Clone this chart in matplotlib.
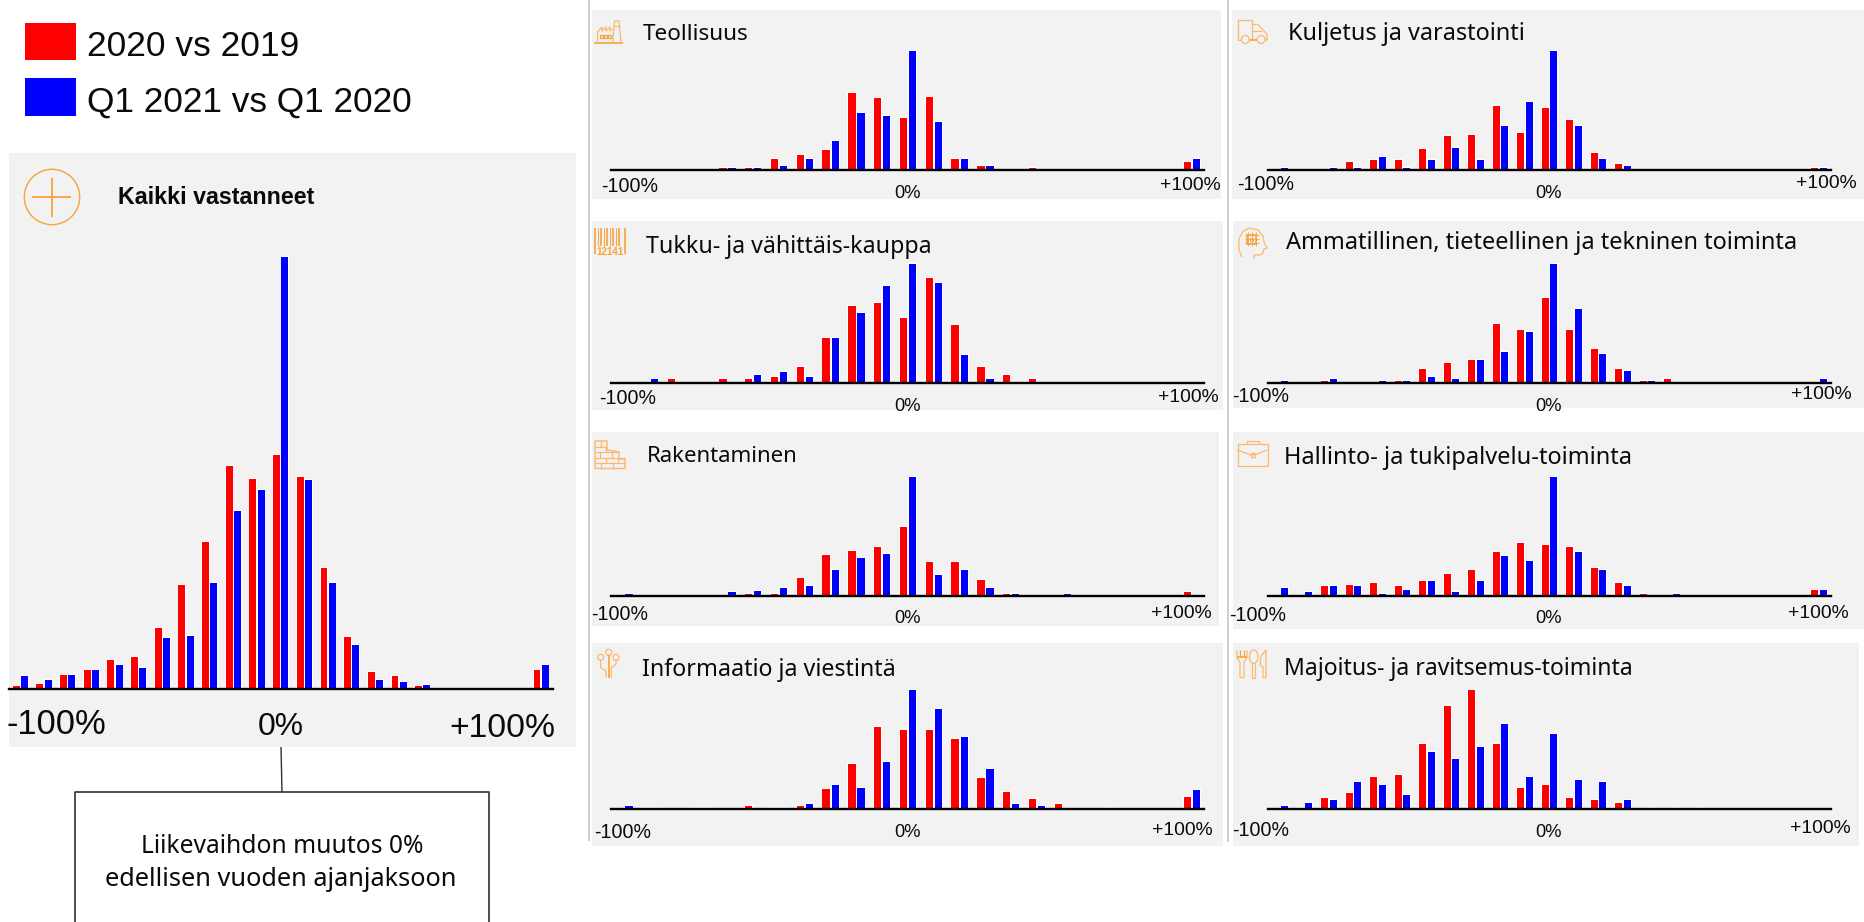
import matplotlib
matplotlib.use("Agg")
import matplotlib.pyplot as plt
from matplotlib.patches import Rectangle, Circle, Ellipse

# heights, 23 bins from -100% to +100%
kaikki_red = [3.3, 5.3, 14.3, 19.3, 29, 31.7, 61.3, 103.7, 146.7, 222.7, 209.7, 234, 211.7, 121, 52, 17.3, 12.7, 3.3, 0, 0, 0, 0, 19.3]
kaikki_blue = [12.7, 8.7, 14.3, 19.3, 23.7, 20.7, 51, 53, 106.3, 177.7, 198.7, 431.7, 208.7, 106.3, 43.7, 8.7, 6.7, 4.3, 0, 0, 0, 0, 23.7]

teollisuus_red = [0, 0, 0, 0, 2, 2, 11, 14.7, 20, 76.7, 71.7, 52, 73.3, 11, 4, 0, 2, 0, 0, 0, 0, 0, 7.7]
teollisuus_blue = [0, 0, 0, 0, 2, 2, 4, 11, 29, 57, 53.7, 119.3, 48.3, 11, 4, 0, 0, 0, 0, 0, 0, 0, 11]
tukku_red = [0, 0, 3.3, 0, 3.3, 3.3, 5.7, 15.7, 45, 77, 79.7, 64.3, 104.3, 57.3, 15.7, 8, 3.3, 0, 0, 0, 0, 0, 0]
tukku_blue = [0, 3.3, 0, 0, 0, 8, 10.7, 5.7, 45, 69.7, 97, 119, 99.3, 28, 3.3, 0, 0, 0, 0, 0, 0, 0, 0]
rakentaminen_red = [0, 0, 0, 0, 0, 1.7, 1.7, 17.7, 40.3, 45, 48.3, 69, 33.7, 33.7, 15.7, 1.7, 0, 0, 0, 0, 0, 0, 3.3]
rakentaminen_blue = [1.7, 0, 0, 0, 3.3, 4.7, 8, 9.7, 25.7, 37.3, 41.7, 119, 20.7, 25.7, 8, 1.7, 0, 1.7, 0, 0, 0, 0, 0]
informaatio_red = [0, 1, 0, 1, 0, 3, 1, 3, 19.7, 44.7, 81.7, 79.3, 79.3, 70, 31, 16.7, 10, 5.3, 0, 1, 0, 0, 12.3]
informaatio_blue = [3, 1, 0, 1, 0, 0, 1, 5.3, 23.7, 21.3, 47, 118.7, 100.3, 72.3, 40, 5.3, 3, 0, 0, 0, 0, 0, 19.3]
kuljetus_red = [0, 0, 0, 7.7, 9.7, 9.7, 20.7, 33.7, 35.3, 64.3, 37, 62.3, 49.7, 17, 5.7, 0, 0, 0, 0, 0, 0, 0, 2]
kuljetus_blue = [2, 0, 2, 2, 13.3, 2, 9.7, 22.3, 9.7, 44.3, 68, 119.3, 44.3, 11.3, 4, 0, 0, 0, 0, 0, 0, 0, 2]
ammatillinen_red = [0, 0, 1.7, 0, 0, 1.7, 13.3, 19.3, 22.7, 58.7, 53, 85, 53, 34, 13.3, 1.7, 3.7, 0, 0, 0, 0, 0, 0]
ammatillinen_blue = [1.7, 0, 3.7, 0, 1.7, 1.7, 5.7, 3.7, 22.7, 30.3, 51, 119, 73.3, 28.3, 11.3, 1.7, 0, 0, 0, 0, 0, 0, 3.7]
hallinto_red = [0, 0, 9.3, 10.7, 12.7, 9.3, 14.7, 21.7, 25.7, 43.3, 52.3, 50.3, 48.7, 27.3, 12.7, 1.7, 0, 0, 0, 0, 0, 0, 5.7]
hallinto_blue = [7.3, 3.7, 9.3, 9.3, 1.7, 5.7, 14.7, 3.7, 14.7, 40, 34.3, 119, 43.3, 25.7, 9.3, 0, 1.7, 0, 0, 0, 0, 0, 5.7]
majoitus_red = [0, 1, 11.3, 16.3, 31.7, 34.3, 65, 103.3, 118.7, 65, 21.3, 24, 11.3, 8.7, 6, 0, 0, 0, 0, 0, 0, 0, 0]
majoitus_blue = [3.3, 6, 8.7, 26.7, 24, 13.7, 57.3, 49.7, 62.3, 85.3, 31.7, 75.3, 29, 26.7, 8.7, 1, 1, 1, 0, 0, 0, 0, 0]

legend_labels = ["2020 vs 2019", "Q1 2021 vs Q1 2020"]
callout_lines = ["Liikevaihdon muutos 0%", "edellisen vuoden ajanjaksoon"]

RED = "#ff0000"
BLUE = "#0000ff"
ORANGE = "#f9a23c"
PALE = "#fab96e"
PANEL = "#f2f2f2"
W, H = 1864, 922

plt.rcParams["font.family"] = ["Liberation Sans", "DejaVu Sans"]
fig = plt.figure(figsize=(W / 100, H / 100), dpi=100)
bg = fig.add_axes([0, 0, 1, 1])
bg.set_xlim(0, W)
bg.set_ylim(H, 0)
bg.axis("off")
renderer = fig.canvas.get_renderer()


def fit_text(x, y, s, width, size, ha="left", **kw):
    # the source font is narrower than what is installed, so set size from the read width
    t = bg.text(x, y + 2, s, fontsize=size, va="center", ha=ha, color="#0a0a0a", **kw)
    t.set_fontsize(size * width / t.get_window_extent(renderer).width)
    return t


def line(xs, ys, lw=0.9, color=PALE):
    bg.plot(xs, ys, color=color, lw=lw, solid_capstyle="butt", zorder=3)


def draw_bars(red, blue, left, right, base, top, first, step, gap, width):
    # axes in pixel-sized units so the heights above stay readable
    ax = fig.add_axes([left / W, 1 - base / H, (right - left) / W, (base - top) / H])
    ax.patch.set_alpha(0)
    ax.axis("off")
    ax.set_xlim((left - first - gap / 2) / step, (right - first - gap / 2) / step)
    ax.set_ylim(0, base - top)
    for off, vals, c in ((-gap / 2 / step, red, RED), (gap / 2 / step, blue, BLUE)):
        xs = [i + off for i in range(len(vals))]
        # white halo behind every bar
        ax.bar(xs, [v + 1 for v in vals], (width + 1.6) / step, color="white", lw=0)
        ax.bar(xs, vals, width / step, color=c, lw=0)
    ax.axhline(0, color="black", lw=1.7, clip_on=False, zorder=5)


def factory(x, y):
    line([x, x + 29], [y + 28.5, y + 28.5], 1.2, ORANGE)
    line([x + 3.5, x + 3.5, x + 8, x + 8, x + 12, x + 12, x + 16, x + 16, x + 18.5],
         [y + 28, y + 17, y + 12, y + 16, y + 12, y + 16, y + 12, y + 16, y + 14])
    line([x + 18.5, x + 20, x + 20.5, x + 25, x + 25.5, x + 27], [y + 28, y + 11, y + 6, y + 6, y + 11, y + 28])
    line([x + 20, x + 25.5], [y + 11, y + 11])
    for dx in (7, 11.3, 15.7):
        bg.add_patch(Rectangle((x + dx - 1.5, y + 20), 3, 3, fill=False, ec=ORANGE, lw=0.9, zorder=3))


def barcode(x, y):
    for dx, lw in ((0, 1.2), (3, 0.7), (6, 1.2), (9, 0.7), (12, 1.2), (15, 0.7), (18, 1.2), (21, 0.7), (24, 1.2), (29.5, 1.2)):
        h = 26 if dx in (0, 29.5) else 18
        line([x + dx, x + dx], [y, y + h], lw, ORANGE)
    bg.text(x + 15, y + 23.5, "12141", color=ORANGE, fontsize=7, fontweight="bold", ha="center", va="center")


def bricks(x, y):
    line([x, x, x + 12, x + 12, x + 24, x + 24, x + 30, x + 30, x], [y + 27.5, y, y, y + 9, y + 11, y + 18, y + 18, y + 27.5, y + 27.5], 1)
    for yy, x1 in ((y + 5.5, x + 12), (y + 11, x + 24), (y + 16.5, x + 30), (y + 22, x + 30)):
        line([x, x1], [yy, yy])
    for dx, y0 in ((6, y), (11, y + 5.5), (5, y + 11), (17, y + 11), (11, y + 16.5), (23, y + 16.5), (6, y + 22), (18, y + 22)):
        line([x + dx, x + dx], [y0, y0 + 5.5])


def circuit(x, y):
    for dx, dy in ((16.7, 7.3), (8.7, 12.3), (24, 12.3)):
        bg.add_patch(Circle((x + dx, y + dy), 3, fill=False, ec=PALE, lw=0.9, zorder=3))
    line([x + 16.7, x + 16.7], [y + 10.3, y + 32.7], 1.2, ORANGE)
    line([x + 8.7, x + 8.7, x + 14, x + 14], [y + 15.3, y + 22.7, y + 26, y + 32.7])
    line([x + 24, x + 24, x + 19.3, x + 19.3], [y + 15.3, y + 19.3, y + 22.7, y + 32.7])


def truck(x, y):
    line([x + 5, x + 1.5, x + 1.5, x + 15.5, x + 15.5], [y + 25, y + 25, y + 5, y + 5, y + 25])
    line([x + 15.5, x + 22, x + 28, x + 31, x + 31, x + 29], [y + 9.5, y + 9.5, y + 16, y + 19, y + 25, y + 25])
    line([x + 15.5, x + 26], [y + 16, y + 16])
    line([x + 13.3, x + 21], [y + 25, y + 25], 1.2, ORANGE)
    for dx in (9.3, 25):
        bg.add_patch(Circle((x + dx, y + 24.5), 4, fc=PANEL, ec=PALE, lw=0.9, zorder=3))


def head(x, y):
    line([x + 6, x + 3, x + 3, x + 7, x + 14, x + 22, x + 27, x + 28, x + 31, x + 28, x + 27, x + 24, x + 18, x + 18],
         [y + 31, y + 24, y + 13, y + 5, y + 2, y + 4, y + 10, y + 16, y + 22, y + 23, y + 27, y + 29, y + 29, y + 33])
    bg.add_patch(Rectangle((x + 11, y + 9), 9, 9, fill=False, ec=ORANGE, lw=1.2, zorder=3))
    bg.add_patch(Rectangle((x + 14, y + 12), 3, 3, fill=False, ec=ORANGE, lw=0.7, zorder=3))
    for d in (11.5, 15.5, 19.5):
        line([x + d, x + d], [y + 6.5, y + 20.5], 0.6, ORANGE)
        line([x + 8.5, x + 22.5], [y + d - 2, y + d - 2], 0.6, ORANGE)


def briefcase(x, y):
    bg.add_patch(Rectangle((x, y + 3), 30, 22, fill=False, ec=PALE, lw=0.9, zorder=3))
    line([x + 9, x + 9, x + 21, x + 21], [y + 3, y, y, y + 3])
    line([x, x + 13, x + 17, x + 30], [y + 9, y + 14, y + 14, y + 9])
    bg.add_patch(Rectangle((x + 13, y + 12), 4, 4, fill=False, ec=PALE, lw=0.9, zorder=3))


def cutlery(x, y):
    line([x, x, x + 3, x + 3, x + 7, x + 7, x + 10, x + 10], [y, y + 8, y + 12, y + 27.5, y + 27.5, y + 12, y + 8, y])
    for dx in (3.3, 6.6):
        line([x + dx, x + dx], [y, y + 7], 0.9, ORANGE)
    line([x, x + 10], [y + 7, y + 7], 1.2, ORANGE)
    bg.add_patch(Ellipse((x + 16.7, y + 6.7), 8.6, 13.4, fill=False, ec=PALE, lw=0.9, zorder=3))
    line([x + 15, x + 15, x + 18.4, x + 18.4], [y + 13, y + 27.5, y + 27.5, y + 13])
    line([x + 29, x + 24, x + 23, x + 26, x + 26, x + 29, x + 29], [y, y + 6, y + 15, y + 17, y + 27.5, y + 27.5, y])


# legend
for y0, y1, c in ((23, 60, RED), (78, 116, BLUE)):
    bg.add_patch(Rectangle((25, y0), 51, y1 - y0, color=c, lw=0))
fit_text(87, 44, legend_labels[0], 213, 26)
fit_text(87, 100, legend_labels[1], 326, 26)

# separators
line([589, 589], [0, 841], 1.2, "#c8c8c8")
line([1228, 1228], [0, 842], 1.2, "#c8c8c8")

# main panel
bg.add_patch(Rectangle((9, 153), 567, 594, color=PANEL, lw=0))
bg.add_patch(Circle((52, 197), 27.7, fill=False, ec=ORANGE, lw=1))
line([32, 71], [197.5, 197.5], 1.3, ORANGE)
line([52, 52], [178, 217], 1.3, ORANGE)
fit_text(118, 195, "Kaikki vastanneet", 197, 17, fontweight="bold")
draw_bars(kaikki_red, kaikki_blue, 9, 553, 689, 153, 16.2, 23.67, 8.3, 6.8)
fit_text(6, 722, "-100%", 100, 25)
fit_text(281, 725, "0%", 46, 25, ha="center")
fit_text(555, 726, "+100%", 106, 25, ha="right")

# callout, the box runs off the bottom edge
line([281, 282], [747, 792], 1, "#303030")
line([75, 75, 489, 489], [922, 792, 792, 922], 1.2, "#303030")
fit_text(282, 844, callout_lines[0], 282, 18, ha="center", family=["Noto Sans"])
fit_text(281, 877, callout_lines[1], 352, 18, ha="center", family=["Noto Sans"])

left_col = dict(left=611, right=1204, first=619.8, step=25.79, gap=9.1, width=7.3, mid=907.6)
right_col = dict(left=1268, right=1831, first=1275.8, step=24.49, gap=8.7, width=7.0, mid=1549)
# column, title, values, box, baseline y, title pos, title width, tick label pos, icon
small_panels = [
    (left_col, "Teollisuus", teollisuus_red, teollisuus_blue, (592, 10, 1221, 199), 170, (643, 32.7), 106,
     (603, 184), 191, (1219, 183), factory, (594, 15)),
    (left_col, "Tukku- ja vähittäis-kauppa", tukku_red, tukku_blue, (592, 221, 1223, 410), 382.7, (646, 245), 286,
     (601, 396.7), 404, (1217, 395), barcode, (595, 228)),
    (left_col, "Rakentaminen", rakentaminen_red, rakentaminen_blue, (592, 432, 1219, 625.7), 595.7, (647, 454), 151,
     (593, 612.7), 616.7, (1210, 611.7), bricks, (595, 441)),
    (left_col, "Informaatio ja viestintä", informaatio_red, informaatio_blue, (592, 643, 1223, 845.7), 809, (642, 668), 254,
     (596, 830), 830, (1211.6, 828), circuit, (592, 645)),
    (right_col, "Kuljetus ja varastointi", kuljetus_red, kuljetus_blue, (1232, 10, 1864, 199), 170, (1288, 32), 237,
     (1239, 182.7), 191, (1855.4, 181.7), truck, (1236, 15)),
    (right_col, "Ammatillinen, tieteellinen ja tekninen toiminta", ammatillinen_red, ammatillinen_blue, (1233, 221, 1864, 407.7), 382.7, (1286, 241), 511,
     (1233.4, 394.7), 404, (1850, 392.7), head, (1236, 226)),
    (right_col, "Hallinto- ja tukipalvelu-toiminta", hallinto_red, hallinto_blue, (1233, 432, 1864, 629), 595.7, (1284.4, 456), 348,
     (1231, 613), 616.7, (1847, 611.7), briefcase, (1237.5, 441)),
    (right_col, "Majoitus- ja ravitsemus-toiminta", majoitus_red, majoitus_blue, (1233, 643, 1859, 845.7), 809, (1284, 667), 349,
     (1233.4, 828), 830, (1849.7, 826.7), cutlery, (1237, 650)),
]

for col, title, red, blue, box, base, tpos, twidth, lpos, midy, rpos, icon, ipos in small_panels:
    bg.add_patch(Rectangle((box[0], box[1]), box[2] - box[0], box[3] - box[1], color=PANEL, lw=0))
    icon(*ipos)
    fit_text(tpos[0], tpos[1], title, twidth, 17, family=["Noto Sans"])
    draw_bars(red, blue, col["left"], col["right"], base, base - 130, col["first"], col["step"], col["gap"], col["width"])
    fit_text(lpos[0] - 1.5, lpos[1], "-100%", 57, 14)
    fit_text(col["mid"], midy, "0%", 26.5, 14, ha="center")
    fit_text(rpos[0] + 1.5, rpos[1], "+100%", 61, 14, ha="right")

fig.savefig("out.png", dpi=100, facecolor="white")
